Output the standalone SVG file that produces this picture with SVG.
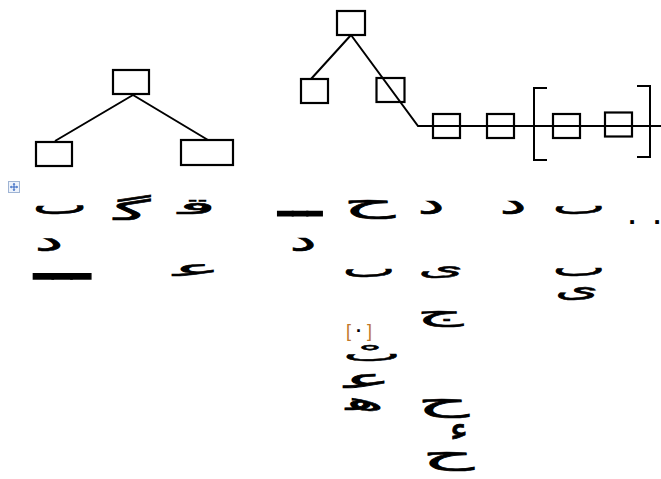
<svg xmlns="http://www.w3.org/2000/svg" width="661" height="479" viewBox="0 0 661 479">
<style>
.box{fill:none;stroke:#000;stroke-width:2.2}
.ln{stroke:#000;stroke-width:2;fill:none}
.ar{font-family:"DejaVu Sans",sans-serif;font-size:40px;fill:#000;stroke:#000;stroke-width:0.9;text-anchor:middle}
.dot{font-family:"Liberation Sans",sans-serif;font-size:26px;font-weight:bold;fill:#000;text-anchor:middle}
</style>
<rect width="661" height="479" fill="#fff"/>
<g id="connectors">
<path class="ln" d="M133,95 L55,141 M133,95 L208,140"/>
<path class="ln" d="M351,35 L311,79 M351,35 L418,126 L661,126"/>
<path class="ln" d="M547,88 L534,88 L534,160 L547,160"/>
<path class="ln" d="M637,86 L650,86 L650,157 L637,157"/>
</g>
<g id="tree1-root"><rect class="box" x="113" y="70" width="36" height="24"/></g>
<g id="tree1-left"><rect class="box" x="36" y="142" width="36" height="24"/></g>
<g id="tree1-right"><rect class="box" x="181" y="140" width="52" height="25"/></g>
<g id="tree2-root"><rect class="box" x="337" y="11" width="28" height="24"/></g>
<g id="tree2-left"><rect class="box" x="301" y="79" width="27" height="24"/></g>
<g id="tree2-right"><rect class="box" x="376.5" y="78" width="28" height="24"/></g>
<g id="chain-1"><rect class="box" x="433" y="114" width="27" height="24"/></g>
<g id="chain-2"><rect class="box" x="487" y="114" width="27" height="24"/></g>
<g id="chain-3"><rect class="box" x="553" y="114" width="27" height="24"/></g>
<g id="chain-4"><rect class="box" x="605" y="112.5" width="27" height="24"/></g>
<g id="move-handle">
<rect x="8.5" y="181.5" width="11" height="11" fill="#eef3fb" stroke="#9fb4d4"/>
<path d="M14,183.5 V190.5 M10.5,187 H17.5" stroke="#2f62c0" stroke-width="1"/>
<path d="M14,183 l-1.5,1.5 h3z M14,191 l-1.5,-1.5 h3z M10,187 l1.5,-1.5 v3z M18,187 l-1.5,-1.5 v3z" fill="#2f62c0"/>
</g>
<g id="glyphs">
<text class="ar" transform="translate(60,214) scale(1.45,0.65)">ٮ</text>
<text class="ar" transform="translate(49,251) scale(1.6,0.72)">د</text>
<text class="ar" transform="translate(62,279) scale(1.6,1.5)">ـــ</text>
<text class="ar" transform="translate(132,220) scale(1.9,0.7)">ﮔ</text>
<text class="ar" transform="translate(197,214) scale(2.0,0.55)">ﻗ</text>
<text class="ar" transform="translate(197,276) scale(2.0,0.55)">ﻋ</text>
<text class="ar" transform="translate(300,216) scale(1.25,1.3)">ـــ</text>
<text class="ar" transform="translate(303,251) scale(1.5,0.75)">د</text>
<text class="ar" transform="translate(369,212) scale(2.0,0.7)">ح</text>
<text class="ar" transform="translate(369,277) scale(1.4,0.6)">ٮ</text>
<text transform="translate(359,337)" style="font-family:'Liberation Sans',sans-serif;font-size:18px;text-anchor:middle"><tspan fill="#c0782a">[</tspan><tspan fill="#000" font-weight="bold"> · </tspan><tspan fill="#c0782a">]</tspan></text>
<text class="ar" transform="translate(372,361) scale(1.53,0.51)">ٮْ</text>
<text class="ar" transform="translate(368,388) scale(1.98,0.66)">ﻋ</text>
<text class="ar" transform="translate(365,410) scale(1.8,0.6)">ﻫ</text>
<text class="ar" transform="translate(431,214) scale(1.5,0.75)">د</text>
<text class="ar" transform="translate(441,275) scale(1.45,0.55)">ى</text>
<text class="ar" transform="translate(440,321) scale(1.8,0.63)">ج</text>
<text class="ar" transform="translate(443,411) scale(2.0,0.7)">ح</text>
<text class="ar" transform="translate(459,440) scale(1.0,0.85)">ء</text>
<text class="ar" transform="translate(448,464) scale(2.0,0.7)">ح</text>
<text class="ar" transform="translate(513,214) scale(1.5,0.75)">د</text>
<text class="ar" transform="translate(579,214) scale(1.4,0.6)">ٮ</text>
<text class="ar" transform="translate(579,276) scale(1.4,0.6)">ٮ</text>
<text class="ar" transform="translate(577,297) scale(1.4,0.6)">ى</text>
<text class="dot" x="632" y="224">.</text>
<text class="dot" x="657" y="224">.</text>
</g>
</svg>
